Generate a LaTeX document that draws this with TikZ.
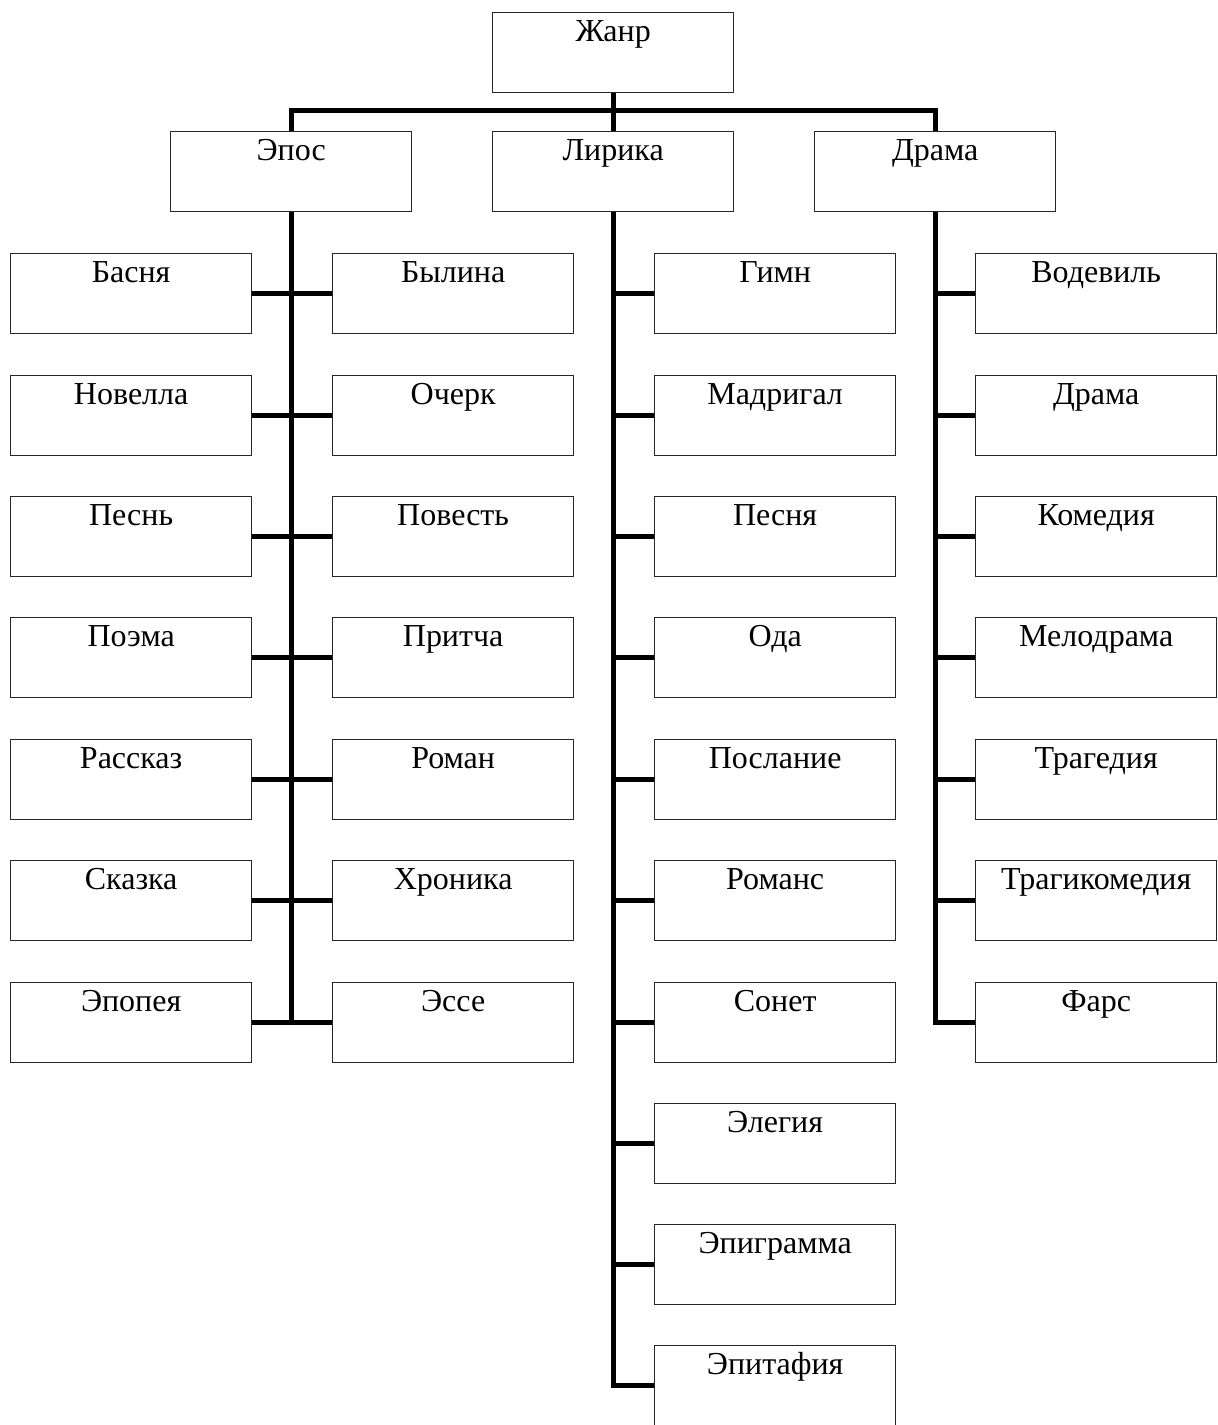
\documentclass[tikz,border=0pt]{standalone}
\usepackage{fontspec}
\setmainfont{Liberation Serif}
\begin{document}
\begin{tikzpicture}[x=1pt,y=-1pt,
  box/.style={draw=black!85, line width=1.3pt, minimum width=241pt, inner xsep=0pt, inner ysep=0pt,
    text height=29pt, text depth=51pt, font=\fontsize{32}{36}\selectfont, anchor=north west},
  conn/.style={line width=5pt, line join=miter}]
\useasboundingbox (0,0) rectangle (1218,1425);
\coordinate (bus) at (613,110);
\node[box] (zhanr) at (492,12) {Жанр};
\node[box] (epos) at (170,131) {Эпос};
\node[box] (lirika) at (492,131) {Лирика};
\node[box] (drama) at (814,131) {Драма};
% Epos left
\node[box] (e1) at (10,253) {Басня};
\node[box] (e2) at (10,375) {Новелла};
\node[box] (e3) at (10,496) {Песнь};
\node[box] (e4) at (10,617) {Поэма};
\node[box] (e5) at (10,739) {Рассказ};
\node[box] (e6) at (10,860) {Сказка};
\node[box] (e7) at (10,982) {Эпопея};
% Epos right
\node[box] (f1) at (332,253) {Былина};
\node[box] (f2) at (332,375) {Очерк};
\node[box] (f3) at (332,496) {Повесть};
\node[box] (f4) at (332,617) {Притча};
\node[box] (f5) at (332,739) {Роман};
\node[box] (f6) at (332,860) {Хроника};
\node[box] (f7) at (332,982) {Эссе};
% Lirika
\node[box] (l1) at (654,253) {Гимн};
\node[box] (l2) at (654,375) {Мадригал};
\node[box] (l3) at (654,496) {Песня};
\node[box] (l4) at (654,617) {Ода};
\node[box] (l5) at (654,739) {Послание};
\node[box] (l6) at (654,860) {Романс};
\node[box] (l7) at (654,982) {Сонет};
\node[box] (l8) at (654,1103) {Элегия};
\node[box] (l9) at (654,1224) {Эпиграмма};
\node[box] (l10) at (654,1345) {Эпитафия};
% Drama
\node[box] (d1) at (975,253) {Водевиль};
\node[box] (d2) at (975,375) {Драма};
\node[box] (d3) at (975,496) {Комедия};
\node[box] (d4) at (975,617) {Мелодрама};
\node[box] (d5) at (975,739) {Трагедия};
\node[box] (d6) at (975,860) {Трагикомедия};
\node[box] (d7) at (975,982) {Фарс};
% top connectors
\draw[conn] (zhanr.south) -- (lirika.north);
\draw[conn] (epos.north) -- (epos.north |- bus) -- (drama.north |- bus) -- (drama.north);
% Epos
\draw[conn] (epos.south) -- (epos.south |- e7.east);
\foreach \i in {1,...,7} \draw[conn] (e\i.east) -- (f\i.west);
% Lirika
\draw[conn] (lirika.south) |- (l10.west);
\foreach \i in {1,...,9} \draw[conn] (l\i.west) -- (l\i.west -| lirika.south);
% Drama
\draw[conn] (drama.south) |- (d7.west);
\foreach \i in {1,...,6} \draw[conn] (d\i.west) -- (d\i.west -| drama.south);
\end{tikzpicture}
\end{document}
